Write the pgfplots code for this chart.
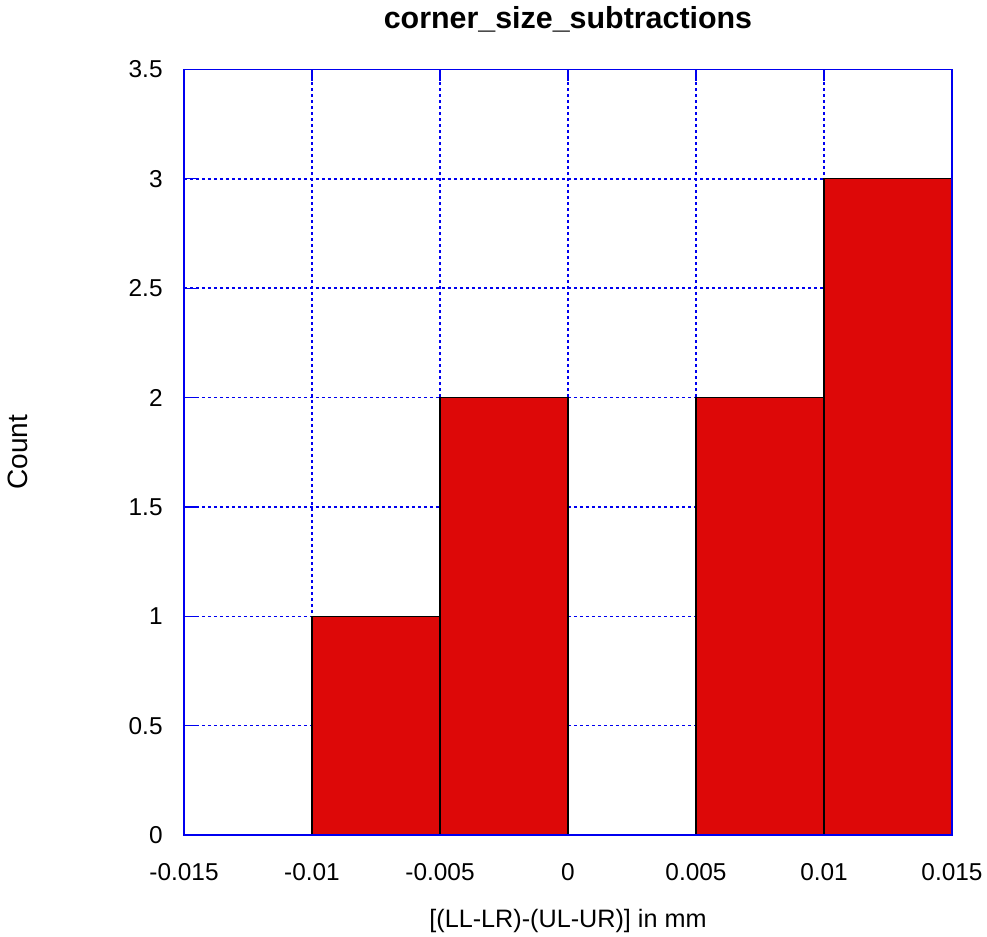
\documentclass[border=0pt]{standalone}
\usepackage{fontspec}
\setmainfont{Liberation Sans}
\usepackage{pgfplots}
\pgfplotsset{compat=1.18}
\definecolor{barred}{RGB}{221,8,8}
\definecolor{gridblue}{RGB}{0,0,240}
\newcommand{\ticksize}{\fontsize{12.2}{14}\selectfont}
\begin{document}
\ticksize
\begin{tikzpicture}
\useasboundingbox (-92pt,-51pt) rectangle (401.5pt,417.5pt);
\begin{axis}[
  at={(0,0)}, anchor=south west,
  scale only axis,
  width=384pt, height=382.75pt,
  xmin=-0.015, xmax=0.015,
  ymin=0, ymax=3.5,
  scaled x ticks=false,
  scaled y ticks=false,
  xtick={-0.015,-0.01,-0.005,0,0.005,0.01,0.015},
  xticklabels={-0.015,-0.01,-0.005,0,0.005,0.01,0.015},
  ytick={0,0.5,1,1.5,2,2.5,3,3.5},
  yticklabels={0,0.5,1,1.5,2,2.5,3,3.5},
  /pgf/number format/assume math mode=true,
  tick align=inside,
  major tick length=6pt,
  tick style={gridblue, line width=0.6pt},
  axis line style={gridblue, line width=0.7pt},
  xmajorgrids, ymajorgrids,
  grid style={draw=gridblue, dash pattern=on 1.5pt off 1.5pt, line width=0.75pt},
  x grid style={draw=gridblue},
  y grid style={draw=gridblue},
  xticklabel style={font=\ticksize, anchor=base, inner sep=0pt, yshift=-23pt},
  yticklabel style={font=\ticksize, anchor=east, inner sep=0pt, xshift=-10.5pt},
  title={corner\_size\_subtractions},
  title style={font=\fontsize{15.2}{18}\selectfont\bfseries, at={(0.5,1)}, anchor=base, inner sep=0pt, yshift=14.5pt},
  xlabel={[(LL-LR)-(UL-UR)] in mm},
  xlabel style={font=\fontsize{12.6}{15}\selectfont, at={(0.5,0)}, anchor=base, inner sep=0pt, yshift=-46.5pt},
  ylabel={Count},
  ylabel style={font=\fontsize{14}{16}\selectfont, at={(0,0.5)}, anchor=center, inner sep=0pt, yshift=83pt},
]
% histogram bins of width 0.005 mm
\addplot[ybar interval, fill=barred, draw=black, line width=0.6pt] coordinates {
  (-0.015,0) (-0.01,1) (-0.005,2) (0,0) (0.005,2) (0.01,3) (0.015,3)
};
% frame redrawn over the bars
\draw[gridblue, line width=0.7pt] (rel axis cs:0,0) rectangle (rel axis cs:1,1);
\end{axis}
\end{tikzpicture}
\end{document}
